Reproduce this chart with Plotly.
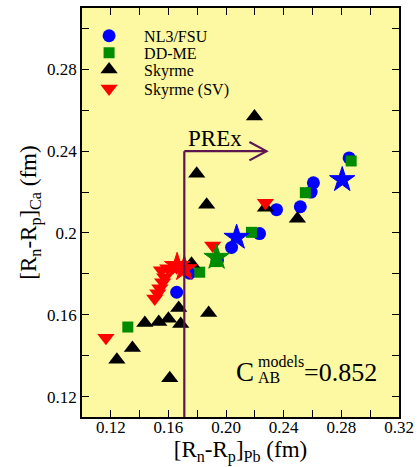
import plotly.graph_objects as go

# ---- data ----
nl3_x = [0.2854, 0.2606, 0.2590, 0.2515, 0.2350, 0.2232, 0.2038, 0.1940, 0.1657, 0.1747]
nl3_y = [0.2367, 0.2245, 0.2200, 0.2128, 0.2114, 0.1997, 0.1929, 0.1866, 0.1710, 0.1803]
nl3_star_x = [0.2806, 0.2073]
nl3_star_y = [0.2260, 0.1978]

ddme_x = [0.2868, 0.2550, 0.2176, 0.1817, 0.1318, 0.1930]
ddme_y = [0.2352, 0.2197, 0.2003, 0.1808, 0.1540, 0.1860]
ddme_star_x = [0.1934]
ddme_star_y = [0.1880]

sky_x = [0.2197, 0.1796, 0.1865, 0.2273, 0.2495, 0.1760, 0.1671, 0.1879,
         0.1436, 0.1533, 0.1600, 0.1685, 0.1350, 0.1242, 0.1609]
sky_y = [0.2570, 0.2289, 0.2138, 0.2123, 0.2070, 0.1850, 0.1633, 0.1608,
         0.1560, 0.1565, 0.1580, 0.1555, 0.1438, 0.1380, 0.1290]

sv_x = [0.2273, 0.1907, 0.1166, 0.1551, 0.1595, 0.1574, 0.1560, 0.1540,
        0.1526, 0.1505, 0.1657]
sv_y = [0.2148, 0.1939, 0.1487, 0.1817, 0.1827, 0.1783, 0.1759, 0.1730,
        0.1705, 0.1680, 0.1832]
sv_star_x = [0.1710, 0.1660]
sv_star_y = [0.1825, 0.1840]

x_tickvals = [0.12, 0.16, 0.20, 0.24, 0.28, 0.32]
x_ticktext = ["0.12", "0.16", "0.20", "0.24", "0.28", "0.32"]
y_tickvals = [0.12, 0.16, 0.20, 0.24, 0.28]
y_ticktext = ["0.12", "0.16", "0.2", "0.24", "0.28"]

prex_x = 0.171
prex_top = 0.240
prex_arrow_end = 0.228
corr_value = "0.852"

# ---- styling ----
FONT = "Liberation Serif"
BLUE = "#0000ff"
GREEN = "#008c00"
BLACK = "#000000"
RED = "#ff0000"
PREX_COLOR = "#5e1650"

fig = go.Figure()

fig.add_trace(go.Scatter(x=nl3_x, y=nl3_y, mode="markers", name="NL3/FSU",
                         marker=dict(symbol="circle", size=13, color=BLUE), legend="legend"))
fig.add_trace(go.Scatter(x=ddme_x, y=ddme_y, mode="markers", name="DD-ME",
                         marker=dict(symbol="square", size=11, color=GREEN), legend="legend2"))
fig.add_trace(go.Scatter(x=sky_x, y=sky_y, mode="markers", name="Skyrme",
                         marker=dict(symbol="triangle-up", size=15, color=BLACK), legend="legend3"))
fig.add_trace(go.Scatter(x=sv_x, y=sv_y, mode="markers", name="Skyrme (SV)",
                         marker=dict(symbol="triangle-down", size=15, color=RED), legend="legend4"))

for sx, sy, col in [(nl3_star_x, nl3_star_y, BLUE), (ddme_star_x, ddme_star_y, GREEN),
                    (sv_star_x, sv_star_y, RED)]:
    fig.add_trace(go.Scatter(x=sx, y=sy, mode="markers", showlegend=False,
                             marker=dict(symbol="star", size=19, color=col,
                                         line=dict(color=col, width=1))))

# PREx line and arrow
fig.add_shape(type="line", x0=prex_x, x1=prex_x, y0=0.11, y1=prex_top,
              line=dict(color=PREX_COLOR, width=2.2))
fig.add_shape(type="line", x0=prex_x, x1=prex_arrow_end, y0=prex_top, y1=prex_top,
              line=dict(color=PREX_COLOR, width=2.2))
fig.add_shape(type="path",
              path=f"M {prex_arrow_end-0.0118} {prex_top+0.0045} L {prex_arrow_end} {prex_top} "
                   f"L {prex_arrow_end-0.0118} {prex_top-0.0045}",
              line=dict(color=PREX_COLOR, width=2.2))
fig.add_annotation(x=0.192, y=prex_top - 0.0008, text="PREx", showarrow=False,
                   xanchor="center", yanchor="bottom",
                   font=dict(family=FONT, size=23, color=BLACK))

# Correlation coefficient text
fig.add_annotation(x=0.2211, y=0.1318, text="C", showarrow=False, xanchor="right",
                   yanchor="middle", font=dict(family=FONT, size=27, color=BLACK))
fig.add_annotation(x=0.2205, y=0.1370, text="models", showarrow=False, xanchor="left",
                   yanchor="middle", font=dict(family=FONT, size=16, color=BLACK))
fig.add_annotation(x=0.2205, y=0.1293, text="AB", showarrow=False, xanchor="left",
                   yanchor="middle", font=dict(family=FONT, size=16, color=BLACK))
fig.add_annotation(x=0.2525, y=0.1318, text="=" + corr_value, showarrow=False, xanchor="left",
                   yanchor="middle", font=dict(family=FONT, size=26, color=BLACK))

axis_common = dict(showline=True, linecolor=BLACK, linewidth=1.5, mirror="allticks",
                   ticks="inside", ticklen=7, tickwidth=1.2, tickcolor=BLACK,
                   showgrid=False, zeroline=False,
                   tickfont=dict(family=FONT, size=17, color=BLACK))

fig.update_xaxes(range=[0.10, 0.32], tickmode="array", tickvals=x_tickvals, ticktext=x_ticktext,
                 ticklabelstandoff=-6,
                 minor=dict(tick0=0.10, dtick=0.02, ticks="inside", ticklen=7, tickcolor=BLACK,
                            tickwidth=1.2, showgrid=False),
                 title=dict(text="[R<sub>n</sub>-R<sub>p</sub>]<sub>Pb</sub> (fm)",
                            font=dict(family=FONT, size=23, color=BLACK), standoff=4),
                 **axis_common)
fig.update_yaxes(range=[0.11, 0.31], tickmode="array", tickvals=y_tickvals, ticktext=y_ticktext,
                 minor=dict(tick0=0.10, dtick=0.02, ticks="inside", ticklen=7, tickcolor=BLACK,
                            tickwidth=1.2, showgrid=False),
                 title=dict(text="[R<sub>n</sub>-R<sub>p</sub>]<sub>Ca</sub> (fm)",
                            font=dict(family=FONT, size=23, color=BLACK), standoff=4),
                 **axis_common)

leg_rows = [34, 51, 68, 87]
leg_common = dict(x=-0.025, xanchor="left", yanchor="middle", bgcolor="rgba(0,0,0,0)",
                  borderwidth=0, itemwidth=60,
                  font=dict(family=FONT, size=16, color=BLACK))
legends = {}
for i, py in enumerate(leg_rows):
    key = "legend" if i == 0 else f"legend{i+1}"
    legends[key] = dict(y=(417 - py) / 411, **leg_common)

fig.update_layout(width=420, height=467,
                  margin=dict(l=82, r=20, t=6, b=50),
                  font=dict(family=FONT, color=BLACK),
                  plot_bgcolor="#fcf9a2", paper_bgcolor="white",
                  showlegend=True, **legends)

fig.write_html("out.html")
